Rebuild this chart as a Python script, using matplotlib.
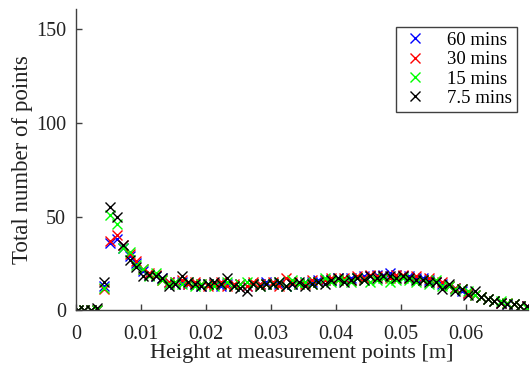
import numpy as np
import matplotlib
matplotlib.use("Agg")
import matplotlib.pyplot as plt

plt.rcParams["font.family"] = ["Liberation Serif", "DejaVu Serif"]

# measurement heights [m]
heights = [
    0.0003, 0.0013, 0.0023, 0.0033, 0.0043, 0.0053, 0.0063, 0.0073, 0.0083, 0.0093,
    0.0103, 0.0113, 0.0123, 0.0133, 0.0143, 0.0153, 0.0163, 0.0173, 0.0183, 0.0193,
    0.0203, 0.0213, 0.0223, 0.0233, 0.0243, 0.0253, 0.0263, 0.0273, 0.0283, 0.0293,
    0.0303, 0.0313, 0.0323, 0.0333, 0.0343, 0.0353, 0.0363, 0.0373, 0.0383, 0.0393,
    0.0403, 0.0413, 0.0423, 0.0433, 0.0443, 0.0453, 0.0463, 0.0473, 0.0483, 0.0493,
    0.0503, 0.0513, 0.0523, 0.0533, 0.0543, 0.0553, 0.0563, 0.0573, 0.0583, 0.0593,
    0.0603, 0.0613, 0.0623, 0.0633, 0.0643, 0.0653, 0.0663, 0.0673, 0.0683, 0.0693,
]

counts_60 = [
    0, 0, 0, 0, 13, 36, 38, 33, 29, 25,
    21, 19, 18, 17, 15, 14, 15, 14, 14, 13,
    14, 14, 13, 14, 13, 14, 13, 14, 14, 15,
    14, 14, 13, 14, 14, 15, 15, 16, 16, 16,
    17, 16, 17, 17, 18, 18, 19, 19, 20, 19,
    18, 18, 17, 17, 16, 15, 14, 13, 12, 10,
    9, 8, 7, 6, 5, 4, 3, 3, 2, 2,
]
counts_30 = [
    0, 0, 0, 0, 11, 37, 40, 35, 30, 26,
    22, 20, 19, 16, 15, 15, 16, 14, 15, 14,
    13, 14, 15, 13, 14, 14, 13, 15, 14, 14,
    15, 13, 17, 15, 14, 14, 16, 15, 16, 17,
    16, 17, 16, 18, 17, 19, 18, 18, 17, 19,
    19, 17, 18, 16, 17, 15, 15, 13, 12, 11,
    9, 8, 7, 6, 5, 4, 4, 3, 2, 2,
]
counts_15 = [
    0, 0, 0, 0, 12, 51, 46, 33, 31, 24,
    22, 18, 20, 16, 14, 15, 14, 15, 13, 14,
    14, 13, 14, 15, 13, 14, 15, 14, 13, 14,
    14, 15, 13, 16, 14, 15, 14, 15, 17, 15,
    16, 16, 15, 17, 16, 15, 16, 17, 15, 16,
    17, 16, 15, 16, 14, 16, 13, 13, 11, 11,
    10, 8, 7, 6, 5, 5, 4, 3, 2, 1,
]
counts_7_5 = [
    0, 0, 0, 1, 15, 55, 50, 35, 27, 23,
    18, 19, 18, 17, 13, 14, 18, 15, 14, 13,
    14, 15, 14, 17, 13, 12, 10, 14, 13, 14,
    14, 15, 13, 14, 15, 13, 14, 15, 14, 16,
    17, 15, 16, 17, 16, 18, 17, 18, 18, 17,
    18, 17, 16, 16, 15, 15, 11, 14, 10, 11,
    8, 10, 7, 6, 5, 4, 3, 3, 2, 2,
]

labels = ["60 mins", "30 mins", "15 mins", "7.5 mins"]
colors = ["#0000ff", "#ff0000", "#00ff00", "#000000"]

fig = plt.figure(figsize=(5.3, 3.7), dpi=100)
ax = fig.add_axes([0.143, 0.162, 0.853, 0.814])

for ys, lab, c in zip([counts_60, counts_30, counts_15, counts_7_5], labels, colors):
    ax.plot(heights, ys, "x", color=c, markersize=7, markeredgewidth=1.0, label=lab)

ax.set_xlim(0, 0.0695)
ax.set_ylim(0, 161)
ax.set_xticks([0, 0.01, 0.02, 0.03, 0.04, 0.05, 0.06])
ax.set_xticklabels(["0", "0.01", "0.02", "0.03", "0.04", "0.05", "0.06"])
ax.set_yticks([0, 50, 100, 150])

ax.spines["top"].set_visible(False)
ax.spines["right"].set_visible(False)
for s in ["left", "bottom"]:
    ax.spines[s].set_color("#404040")
    ax.spines[s].set_linewidth(1.0)
ax.tick_params(direction="in", length=4, width=1, color="#404040", labelsize=14.5,
               labelcolor="#222222")
ax.tick_params(axis="x", pad=11)
ax.tick_params(axis="y", pad=7)

ax.set_xlabel("Height at measurement points [m]", fontsize=16, color="#222222", labelpad=0)
ax.set_ylabel("Total number of points", fontsize=16.5, color="#222222", labelpad=2)

leg = ax.legend(loc="upper right", bbox_to_anchor=(0.976, 0.94), fontsize=13.5, fancybox=False,
                edgecolor="#404040", framealpha=1, handlelength=1.5, handletextpad=1.0,
                borderpad=0.25, labelspacing=0.12, borderaxespad=0)
leg.get_frame().set_linewidth(1.0)

fig.savefig("out.png", dpi=100)
